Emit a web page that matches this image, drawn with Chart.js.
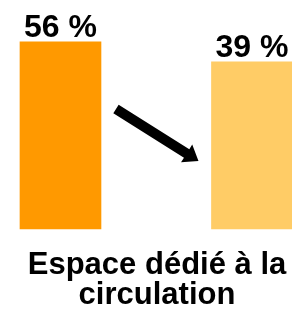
<!DOCTYPE html>
<html lang="fr">
<head>
<meta charset="utf-8">
<title>Espace dédié à la circulation</title>
<script src="https://cdn.jsdelivr.net/npm/chart.js@4/dist/chart.umd.min.js"></script>
<style>
  html, body { margin: 0; padding: 0; background: #fff; }
  #wrap { width: 292px; height: 314px; position: relative; }
</style>
</head>
<body>
<div id="wrap"><canvas id="chart"></canvas></div>
<script>
// données du graphique
const categories = ['Avant', 'Après'];
const percentValues = [56, 39];
const valueLabels = ['56 %', '39 %'];
const barColors = ['#FF9900', '#FFCC66'];
const titleLines = ['Espace dédié à la', 'circulation'];

const FONT = '"Liberation Sans", Arial, sans-serif';
const Y_MIN = -103; // les barres partent du bas de la zone (axe non nul)

// étiquettes au-dessus des barres + flèche entre les deux
const labelsAndArrow = {
    id: 'labelsAndArrow',
    afterDatasetsDraw(chart) {
        const ctx = chart.ctx;
        const bars = chart.getDatasetMeta(0).data;
        ctx.save();
        ctx.fillStyle = '#000';
        ctx.font = 'bold 32px ' + FONT;
        ctx.textAlign = 'center';
        ctx.textBaseline = 'alphabetic';
        bars.forEach((bar, i) => {
            ctx.fillText(valueLabels[i], bar.x, bar.y - 5);
        });

        // flèche : de la barre gauche vers la barre droite
        const a = bars[0], b = bars[1];
        const x0 = a.x + a.width / 2 + 15, y0 = a.y + 67;
        const x1 = b.x - b.width / 2 - 13, y1 = b.y + 99;
        const ang = Math.atan2(y1 - y0, x1 - x0);
        const len = Math.hypot(x1 - x0, y1 - y0);
        const shaft = 10, headW = 21, headL = 14;
        ctx.translate(x0, y0);
        ctx.rotate(ang);
        ctx.beginPath();
        ctx.moveTo(0, -shaft / 2);
        ctx.lineTo(len - headL, -shaft / 2);
        ctx.lineTo(len - headL, -headW / 2);
        ctx.lineTo(len, 0);
        ctx.lineTo(len - headL, headW / 2);
        ctx.lineTo(len - headL, shaft / 2);
        ctx.lineTo(0, shaft / 2);
        ctx.closePath();
        ctx.fill();
        ctx.restore();
    }
};

const ctx = document.getElementById('chart').getContext('2d');
new Chart(ctx, {
    type: 'bar',
    data: {
        labels: categories,
        datasets: [{
            data: percentValues.map((v, i) => ({ x: i + 1, y: v })),
            backgroundColor: barColors,
            borderWidth: 0,
            barThickness: 81,
            base: Y_MIN,
            clip: false
        }]
    },
    options: {
        responsive: true,
        maintainAspectRatio: false,
        animation: false,
        layout: { padding: { left: 22, right: 0, top: 0, bottom: 0 } },
        scales: {
            x: { type: 'linear', display: false, offset: false, min: 0.799, max: 2.209 },
            y: { display: false, min: Y_MIN, max: 91.65 }
        },
        plugins: {
            legend: { display: false },
            tooltip: { enabled: false },
            title: {
                display: true,
                position: 'bottom',
                text: titleLines,
                color: '#000',
                font: { family: FONT, size: 31, weight: 'bold', lineHeight: '30px' },
                padding: { top: 21, bottom: 4 }
            }
        }
    },
    plugins: [labelsAndArrow]
});
</script>
</body>
</html>
